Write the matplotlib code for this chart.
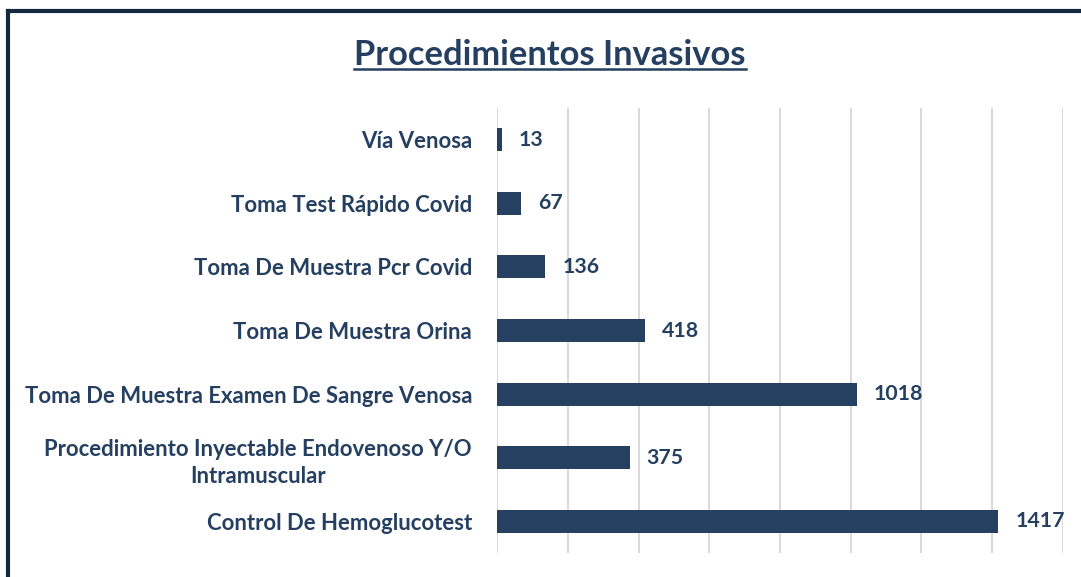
import matplotlib
matplotlib.use("Agg")
import matplotlib.pyplot as plt
from matplotlib.lines import Line2D

NAVY = "#243f60"
BAR = "#264061"
GRID = "#d9d9d9"

categories = [
    "Control De Hemoglucotest",
    "Procedimiento Inyectable Endovenoso Y/O\nIntramuscular",
    "Toma De Muestra Examen De Sangre Venosa",
    "Toma De Muestra Orina",
    "Toma De Muestra Pcr Covid",
    "Toma Test Rápido Covid",
    "Vía Venosa",
]
values = [1417, 375, 1018, 418, 136, 67, 13]
grid_ticks = list(range(0, 1601, 200))

plt.rcParams["font.family"] = ["Lato", "DejaVu Sans"]

fig = plt.figure(figsize=(10.81, 5.77), dpi=100)
ax = fig.add_axes([0.4598, 0.0416, 0.5235, 0.7712])

y = list(range(len(categories)))
ax.barh(y, values, height=0.36, color=BAR, zorder=3)
for yi, v in zip(y, values):
    ax.text(v + 48, yi, str(v), va="center", ha="left", fontsize=15.3,
            fontweight="bold", color=NAVY)

ax.set_xlim(0, 1600)
ax.set_ylim(-0.5, len(categories) - 0.5)
ax.set_xticks(grid_ticks)
ax.set_xticklabels([])
ax.tick_params(axis="x", length=0)
ax.tick_params(axis="y", length=0, pad=18)
ax.set_yticks(y)
ax.set_yticklabels(categories, fontsize=15.9, fontweight="bold", color=NAVY,
                   linespacing=1.4)
for lab in ax.get_yticklabels():
    lab.set_horizontalalignment("right")
    lab.set_multialignment("center")
ax.grid(axis="x", color=GRID, linewidth=1.4, zorder=0)
for s in ax.spines.values():
    s.set_visible(False)

title = fig.text(0.509, 0.905, "Procedimientos Invasivos", ha="center",
                 va="center", fontsize=24.8, fontweight="bold", color=NAVY)

# underline under title
fig.canvas.draw()
bb = title.get_window_extent().transformed(fig.transFigure.inverted())
fig.add_artist(Line2D([bb.x0, bb.x1], [bb.y0 + 0.004, bb.y0 + 0.004],
                      transform=fig.transFigure, color=NAVY, linewidth=1.8))

# frame on top and left
fig.add_artist(Line2D([0.0074, 1.0], [0.9810, 0.9810], transform=fig.transFigure,
                      color="#14283f", linewidth=3))
fig.add_artist(Line2D([0.0074, 0.0074], [0.0, 0.9810], transform=fig.transFigure,
                      color="#14283f", linewidth=3))

fig.savefig("out.png", dpi=100)
